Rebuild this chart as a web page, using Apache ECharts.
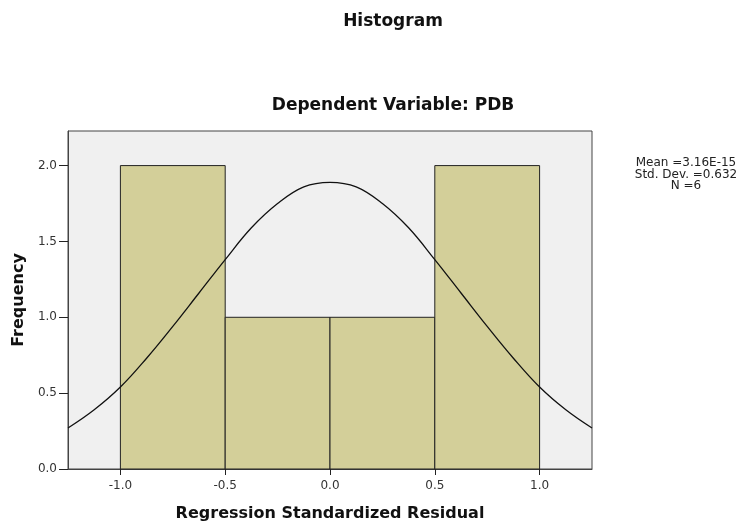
<!DOCTYPE html>
<html>
<head>
<meta charset="utf-8">
<script src="https://cdn.jsdelivr.net/npm/echarts@6/dist/echarts.min.js"></script>
<style>
  html, body { margin: 0; padding: 0; background: #fff; }
  #main { width: 742px; height: 527px; }
</style>
</head>
<body>
<div id="main"></div>
<script>
// histogram bins (regression standardized residual) and counts
var binStart = [-1.0, -0.5, 0.0, 0.5];
var binEnd = [-0.5, 0.0, 0.5, 1.0];
var frequency = [2, 1, 1, 2];

// normal curve, values
var curveX = [-1.25, -1.125, -1.0, -0.875, -0.75, -0.625, -0.5, -0.375, -0.25, -0.125, 0,
              0.125, 0.25, 0.375, 0.5, 0.625, 0.75, 0.875, 1.0, 1.125, 1.25];
var curveY = [0.27, 0.39, 0.54, 0.73, 0.94, 1.16, 1.38, 1.59, 1.75, 1.86, 1.89,
              1.86, 1.75, 1.59, 1.38, 1.16, 0.94, 0.73, 0.54, 0.39, 0.27];

var xTicks = [-1.0, -0.5, 0.0, 0.5, 1.0];
var yTicks = [0.0, 0.5, 1.0, 1.5, 2.0];
var statsLines = ['Mean =3.16E-15', 'Std. Dev. =0.632', 'N =6'];

var barData = [];
for (var i = 0; i < frequency.length; i++) {
    barData.push([binStart[i], binEnd[i], frequency[i]]);
}
var curveData = [];
for (var j = 0; j < curveX.length; j++) {
    curveData.push([curveX[j], curveY[j]]);
}

var chart = echarts.init(document.getElementById('main'));

var option = {
    animation: false,
    backgroundColor: '#ffffff',
    textStyle: { fontFamily: 'DejaVu Sans' },
    title: [{
        text: 'Histogram',
        left: 388,
        textAlign: 'center',
        top: 8,
        textStyle: { fontFamily: 'DejaVu Sans', fontSize: 17, fontWeight: 'bold', color: '#111' }
    }, {
        text: 'Dependent Variable: PDB',
        left: 388,
        textAlign: 'center',
        top: 92,
        textStyle: { fontFamily: 'DejaVu Sans', fontSize: 17, fontWeight: 'bold', color: '#111' }
    }],
    graphic: statsLines.map(function (s, k) {
        return {
            type: 'text',
            x: 686,
            y: 163 + k * 11.5,
            style: {
                text: s,
                align: 'center',
                verticalAlign: 'middle',
                fontFamily: 'DejaVu Sans',
                fontSize: 12,
                fill: '#222'
            }
        };
    }),
    grid: {
        left: 68,
        right: 150,
        top: 131,
        bottom: 55,
        show: true,
        backgroundColor: '#f0f0f0',
        borderColor: '#444',
        borderWidth: 1
    },
    xAxis: {
        type: 'value',
        min: -1.25,
        max: 1.25,
        name: 'Regression Standardized Residual',
        nameLocation: 'middle',
        nameGap: 37,
        nameTextStyle: { fontFamily: 'DejaVu Sans', fontSize: 16, fontWeight: 'bold', color: '#111' },
        axisLine: { show: true, onZero: false, lineStyle: { color: '#444', width: 1 } },
        axisTick: { show: true, length: 6, lineStyle: { color: '#222' }, customValues: xTicks },
        axisLabel: {
            customValues: xTicks,
            margin: 11,
            fontSize: 12,
            color: '#333',
            formatter: function (v) { return v.toFixed(1); }
        },
        splitLine: { show: false }
    },
    yAxis: {
        type: 'value',
        min: 0,
        max: 2.228,
        name: 'Frequency',
        nameLocation: 'middle',
        nameGap: 37,
        nameTextStyle: { fontFamily: 'DejaVu Sans', fontSize: 16, fontWeight: 'bold', color: '#111' },
        axisLine: { show: true, onZero: false, lineStyle: { color: '#444', width: 1 } },
        axisTick: { show: true, length: 9, lineStyle: { color: '#222' }, customValues: yTicks },
        axisLabel: {
            customValues: yTicks,
            margin: 11,
            fontSize: 12,
            color: '#333',
            formatter: function (v) { return v.toFixed(1); }
        },
        splitLine: { show: false }
    },
    series: [
        {
            type: 'custom',
            data: barData,
            encode: { x: [0, 1], y: 2 },
            renderItem: function (params, api) {
                var topLeft = api.coord([api.value(0), api.value(2)]);
                var bottomRight = api.coord([api.value(1), 0]);
                return {
                    type: 'rect',
                    shape: {
                        x: topLeft[0],
                        y: topLeft[1],
                        width: bottomRight[0] - topLeft[0],
                        height: bottomRight[1] - topLeft[1]
                    },
                    style: { fill: '#d3cf99', stroke: '#222', lineWidth: 1 }
                };
            },
            z: 2
        },
        {
            type: 'line',
            data: curveData,
            smooth: 0.4,
            showSymbol: false,
            lineStyle: { color: '#111', width: 1.3 },
            z: 3
        }
    ]
};

chart.setOption(option);
</script>
</body>
</html>
